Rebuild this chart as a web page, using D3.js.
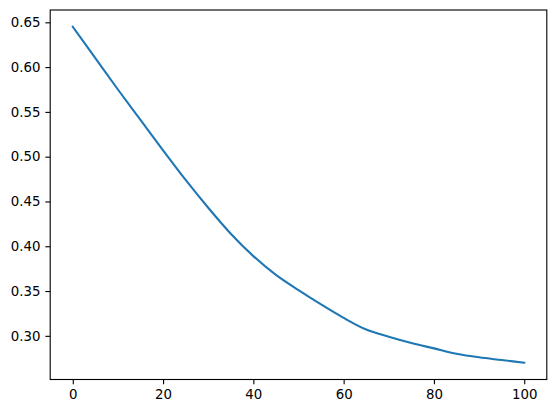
<!DOCTYPE html>
<html>
<head>
<meta charset="utf-8">
<script src="https://cdn.jsdelivr.net/npm/d3@7"></script>
<style>
  html, body { margin: 0; padding: 0; background: #fff; }
  svg { display: block; }
  .tick text { font-family: "DejaVu Sans", sans-serif; font-size: 13.33px; fill: #000; }
</style>
</head>
<body>
<svg id="chart" width="556" height="413"></svg>
<script>
const xValues = [0, 5, 10, 15, 20, 25, 30, 35, 40, 45, 50, 55, 60, 65, 70, 75, 80, 85, 90, 95, 100];
const yValues = [0.645, 0.610, 0.575, 0.541, 0.507, 0.474, 0.443, 0.414, 0.389, 0.368, 0.351, 0.335, 0.320, 0.307, 0.299, 0.292, 0.286, 0.280, 0.276, 0.273, 0.270];
const xTicks = [0, 20, 40, 60, 80, 100];
const yTicks = [0.30, 0.35, 0.40, 0.45, 0.50, 0.55, 0.60, 0.65];

const svg = d3.select("#chart");
const mLeft = 50.2, mTop = 10, mRight = 546.8, mBottom = 379.5;

const xMin = d3.min(xValues), xMax = d3.max(xValues);
const yMin = d3.min(yValues), yMax = d3.max(yValues);
const xPad = (xMax - xMin) * 0.05, yPad = (yMax - yMin) * 0.05;

const x = d3.scaleLinear().domain([xMin - xPad, xMax + xPad]).range([mLeft, mRight]);
const y = d3.scaleLinear().domain([yMin - yPad, yMax + yPad]).range([mBottom, mTop]);

const data = xValues.map((d, i) => [d, yValues[i]]);

svg.append("path")
  .datum(data)
  .attr("fill", "none")
  .attr("stroke", "#1f77b4")
  .attr("stroke-width", 2.08)
  .attr("stroke-linejoin", "round")
  .attr("stroke-linecap", "square")
  .attr("d", d3.line().x(d => x(d[0])).y(d => y(d[1])).curve(d3.curveMonotoneX));

const xAxis = svg.append("g")
  .attr("transform", `translate(0,${mBottom})`)
  .call(d3.axisBottom(x).tickValues(xTicks).tickFormat(d3.format("d")).tickSize(4.86).tickPadding(4.86));
const yAxis = svg.append("g")
  .attr("transform", `translate(${mLeft},0)`)
  .call(d3.axisLeft(y).tickValues(yTicks).tickFormat(d3.format(".2f")).tickSize(4.86).tickPadding(4.86));

[xAxis, yAxis].forEach(g => {
  g.select(".domain").remove();
  g.selectAll(".tick line").attr("stroke", "#000").attr("stroke-width", 1.11);
});

svg.append("rect")
  .attr("x", mLeft).attr("y", mTop)
  .attr("width", mRight - mLeft).attr("height", mBottom - mTop)
  .attr("fill", "none").attr("stroke", "#000").attr("stroke-width", 1.11);
</script>
</body>
</html>
